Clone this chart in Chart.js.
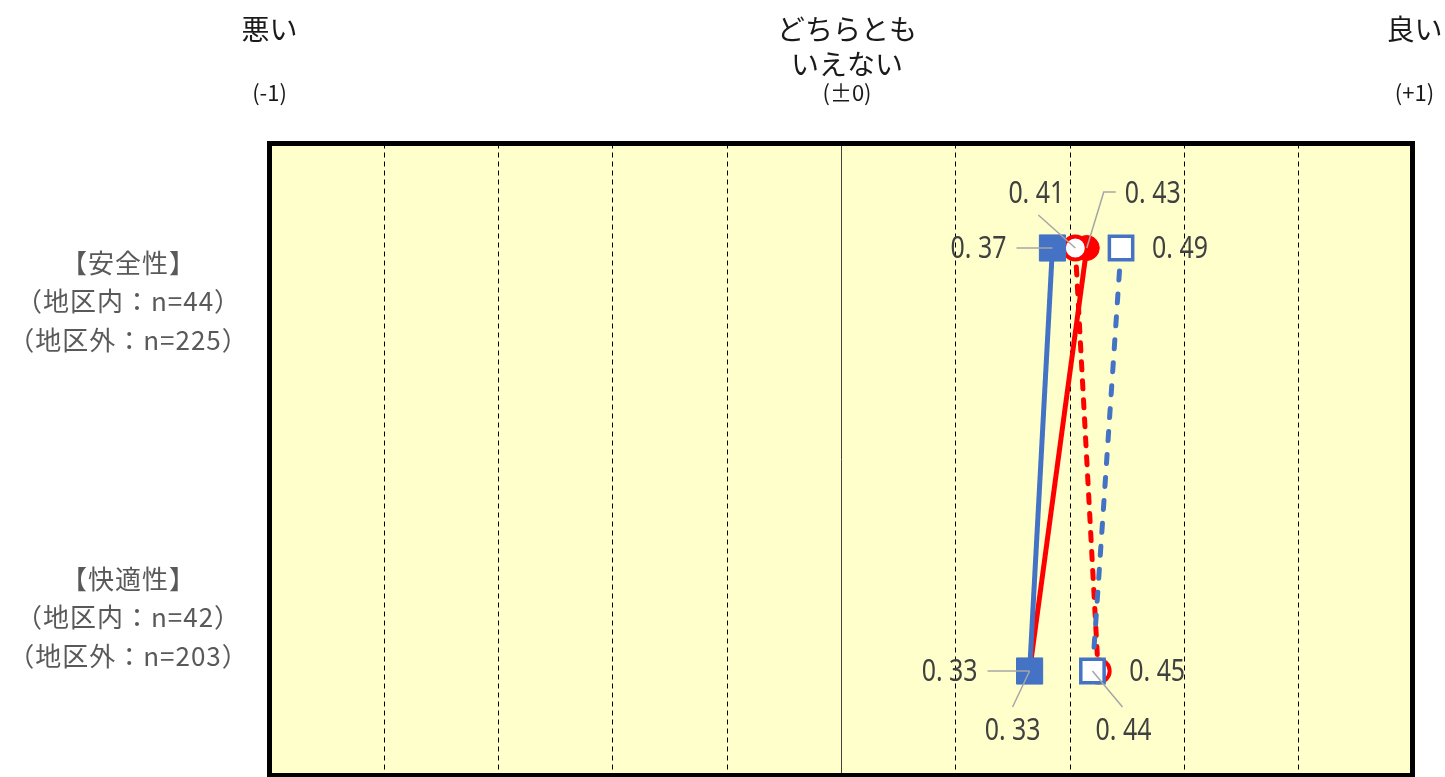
<!DOCTYPE html>
<html>
<head>
<meta charset="utf-8">
<script src="https://cdn.jsdelivr.net/npm/chart.js@4.4.1/dist/chart.umd.min.js"></script>
<style>
  html, body { margin: 0; padding: 0; background: #ffffff; }
  #wrap { width: 1445px; height: 777px; }
</style>
</head>
<body>
<div id="wrap"><canvas id="c" width="1445" height="777"></canvas></div>
<script>
// Evaluation items (rows) and their multi-line captions
const categories = ['安全性', '快適性'];
const categoryCaptions = [
  ['【安全性】', '（地区内：n=44）', '（地区外：n=225）'],
  ['【快適性】', '（地区内：n=42）', '（地区外：n=203）']
];

// Average scores per series, one value per evaluation item
const blueFilled = [0.37, 0.33];
const blueOpen   = [0.49, 0.44];
const redFilled  = [0.43, 0.33];
const redOpen    = [0.41, 0.45];

// Score axis
const gridValues = [-1, -0.8, -0.6, -0.4, -0.2, 0, 0.2, 0.4, 0.6, 0.8, 1];
const headerValues = [-1, 0, 1];
const headerMain = [['悪い'], ['どちらとも', 'いえない'], ['良い']];
const headerSub = ['(-1)', '(±0)', '(+1)'];

// Label placement relative to each marker (pixels): text centre and leader path
const labelPlacement = {
  blueFilled: [
    { dx: -74, dy: 0, leader: [[-36, 0], [0, 0]] },
    { dx: -80, dy: 0, leader: [[-42, 0], [0, 0]] }
  ],
  blueOpen: [
    { dx: 59, dy: 0 },
    { dx: 31, dy: 59, leader: [[30, 36], [0, 0]] }
  ],
  redFilled: [
    { dx: 66, dy: -55, leader: [[29, -56], [17, -56], [0, 0]] },
    { dx: -17, dy: 59, leader: [[-17, 36], [0, 0]] }
  ],
  redOpen: [
    { dx: -39, dy: -55, leader: [[-37, -33], [0, 0]] },
    { dx: 59, dy: 0 }
  ]
};

const BLUE = '#4472C4';
const RED = '#FF0000';

function toPoints(values) {
  return values.map((v, i) => ({ x: v, y: i }));
}

const datasets = [
  {
    key: 'blueFilled', data: toPoints(blueFilled), order: 1,
    borderColor: BLUE, borderWidth: 5, showLine: true,
    pointStyle: 'rect', pointRadius: 18.5, pointBackgroundColor: BLUE,
    pointBorderColor: BLUE, pointBorderWidth: 1
  },
  {
    key: 'blueOpen', data: toPoints(blueOpen), order: 2,
    borderColor: BLUE, borderWidth: 5, showLine: true,
    borderDash: [9, 14], borderCapStyle: 'round',
    pointStyle: 'rect', pointRadius: 16.5, pointBackgroundColor: '#ffffff',
    pointBorderColor: BLUE, pointBorderWidth: 3.5
  },
  {
    key: 'redOpen', data: toPoints(redOpen), order: 3,
    borderColor: RED, borderWidth: 5, showLine: true,
    borderDash: [8, 11], borderCapStyle: 'round',
    pointStyle: 'circle', pointRadius: 11.5, pointBackgroundColor: '#ffffff',
    pointBorderColor: RED, pointBorderWidth: 4
  },
  {
    key: 'redFilled', data: toPoints(redFilled), order: 4,
    borderColor: RED, borderWidth: 5, showLine: true,
    pointStyle: 'circle', pointRadius: 12.5, pointBackgroundColor: RED,
    pointBorderColor: RED, pointBorderWidth: 1
  }
];

// Yellow plot background, dashed score grid and solid centre line
const plotBackground = {
  id: 'plotBackground',
  beforeDatasetsDraw(chart) {
    const { ctx, chartArea: a, scales } = chart;
    ctx.save();
    ctx.fillStyle = '#FFFFCC';
    ctx.fillRect(a.left, a.top, a.right - a.left, a.bottom - a.top);
    gridValues.forEach(v => {
      if (v === -1 || v === 1) return;
      const x = Math.round(scales.x.getPixelForValue(v)) + 0.5;
      ctx.beginPath();
      if (v === 0) {
        ctx.setLineDash([]);
        ctx.strokeStyle = '#404040';
      } else {
        ctx.setLineDash([5, 4]);
        ctx.strokeStyle = '#000000';
      }
      ctx.lineWidth = 1;
      ctx.moveTo(x, a.top);
      ctx.lineTo(x, a.bottom);
      ctx.stroke();
    });
    ctx.restore();
  },
  afterDraw(chart) {
    const { ctx, chartArea: a } = chart;
    ctx.save();
    ctx.strokeStyle = '#000000';
    ctx.lineWidth = 5;
    ctx.setLineDash([]);
    ctx.strokeRect(a.left, a.top, a.right - a.left, a.bottom - a.top);
    ctx.restore();
  }
};

// Header captions above the score scale and row captions on the left
const captions = {
  id: 'captions',
  afterDraw(chart) {
    const { ctx, scales } = chart;
    ctx.save();
    ctx.textAlign = 'center';
    ctx.textBaseline = 'middle';
    headerValues.forEach((v, i) => {
      const shift = v === 0 ? 6 : (v === 1 ? 2 : 0);
      const x = scales.x.getPixelForValue(v) + shift;
      ctx.fillStyle = '#1a1a1a';
      ctx.font = '28px "Noto Sans CJK JP", sans-serif';
      headerMain[i].forEach((line, j) => {
        ctx.fillText(line, x, 29 + j * 35);
      });
      ctx.font = '22px "Noto Sans CJK JP", sans-serif';
      ctx.fillText(headerSub[i], x, 93);
    });
    ctx.fillStyle = '#595959';
    ctx.font = '26px "Noto Sans CJK JP", sans-serif';
    ctx.letterSpacing = '1px';
    categories.forEach((c, i) => {
      const y = scales.rows.getPixelForValue(i);
      const lines = categoryCaptions[i];
      lines.forEach((line, j) => {
        ctx.fillText(line, 128.5, y + (j - (lines.length - 1) / 2) * 38.5);
      });
    });
    ctx.restore();
  }
};

// Value labels with grey leader lines
const valueLabels = {
  id: 'valueLabels',
  afterDatasetsDraw(chart) {
    const { ctx } = chart;
    ctx.save();
    chart.data.datasets.forEach((ds, di) => {
      const meta = chart.getDatasetMeta(di);
      const place = labelPlacement[ds.key];
      meta.data.forEach((pt, i) => {
        const p = place[i];
        if (p.leader) {
          ctx.beginPath();
          ctx.setLineDash([]);
          ctx.strokeStyle = '#A6A6A6';
          ctx.lineWidth = 1.5;
          p.leader.forEach(([lx, ly], k) => {
            if (k === 0) ctx.moveTo(pt.x + lx, pt.y + ly);
            else ctx.lineTo(pt.x + lx, pt.y + ly);
          });
          ctx.stroke();
        }
        const text = ds.data[i].x.toFixed(2).replace('.', '. ');
        ctx.save();
        ctx.translate(pt.x + p.dx, pt.y + p.dy);
        ctx.scale(0.83, 1);
        ctx.font = '30px "Noto Sans", sans-serif';
        ctx.fillStyle = '#404040';
        ctx.textAlign = 'center';
        ctx.textBaseline = 'middle';
        ctx.fillText(text, 0, 1);
        ctx.restore();
      });
    });
    ctx.restore();
  }
};

new Chart(document.getElementById('c'), {
  type: 'scatter',
  data: { datasets },
  options: {
    responsive: false,
    animation: false,
    layout: { autoPadding: false, padding: { left: 269.5, right: 32.5, top: 143.5, bottom: 1.5 } },
    plugins: { legend: { display: false }, tooltip: { enabled: false } },
    scales: {
      x: { type: 'linear', min: -1, max: 1, display: false },
      y: { type: 'linear', min: -0.247, max: 1.247, reverse: true, display: false },
      rows: { type: 'category', axis: 'y', labels: categories, offset: true, display: false }
    }
  },
  plugins: [plotBackground, captions, valueLabels]
});
</script>
</body>
</html>
